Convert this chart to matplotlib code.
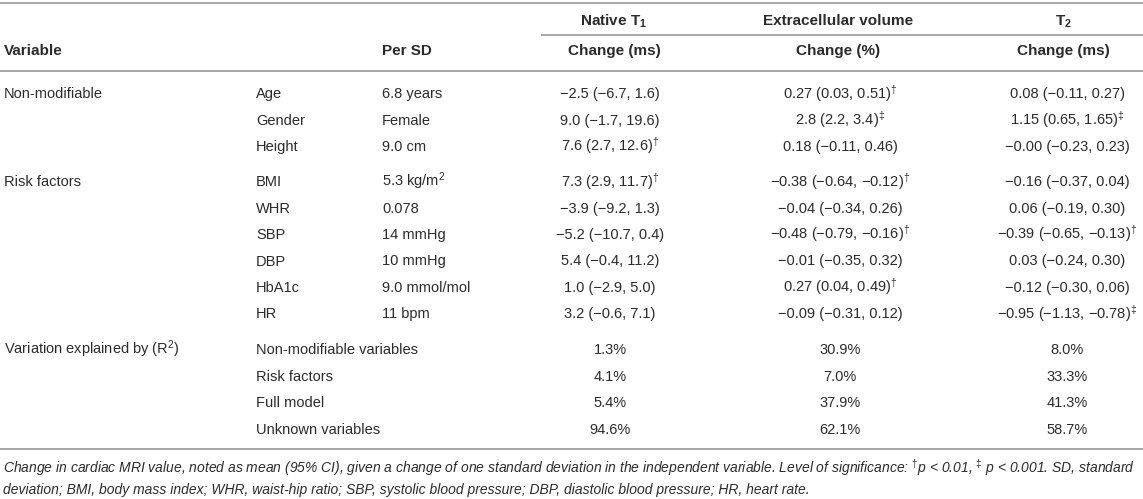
import matplotlib
matplotlib.use("Agg")
import matplotlib.pyplot as plt

plt.rcParams['font.family'] = ['Liberation Sans', 'DejaVu Sans']
plt.rcParams['mathtext.fontset'] = 'custom'
plt.rcParams['mathtext.rm'] = 'Liberation Sans'
plt.rcParams['mathtext.it'] = 'Liberation Sans:italic'
plt.rcParams['mathtext.bf'] = 'Liberation Sans:bold'

# ---------------- data ----------------
group_headers = ["Native T$_\\mathbf{1}$", "Extracellular volume", "T$_\\mathbf{2}$"]
col_headers = ["Variable", "Per SD", "Change (ms)", "Change (%)", "Change (ms)"]

sections = ["Non-modifiable", "Risk factors", "Variation explained by (R$^2$)"]

nonmod_vars = ["Age", "Gender", "Height"]
nonmod_persd = ["6.8 years", "Female", "9.0 cm"]
nonmod_t1 = ["\u22122.5 (\u22126.7, 1.6)", "9.0 (\u22121.7, 19.6)", "7.6 (2.7, 12.6)$^{\\dagger}$"]
nonmod_ecv = ["0.27 (0.03, 0.51)$^{\\dagger}$", "2.8 (2.2, 3.4)$^{\\ddagger}$", "0.18 (\u22120.11, 0.46)"]
nonmod_t2 = ["0.08 (\u22120.11, 0.27)", "1.15 (0.65, 1.65)$^{\\ddagger}$", "\u22120.00 (\u22120.23, 0.23)"]

risk_vars = ["BMI", "WHR", "SBP", "DBP", "HbA1c", "HR"]
risk_persd = ["5.3 kg/m$^2$", "0.078", "14 mmHg", "10 mmHg", "9.0 mmol/mol", "11 bpm"]
risk_t1 = ["7.3 (2.9, 11.7)$^{\\dagger}$", "\u22123.9 (\u22129.2, 1.3)", "\u22125.2 (\u221210.7, 0.4)",
           "5.4 (\u22120.4, 11.2)", "1.0 (\u22122.9, 5.0)", "3.2 (\u22120.6, 7.1)"]
risk_ecv = ["\u22120.38 (\u22120.64, \u22120.12)$^{\\dagger}$", "\u22120.04 (\u22120.34, 0.26)",
            "\u22120.48 (\u22120.79, \u22120.16)$^{\\dagger}$", "\u22120.01 (\u22120.35, 0.32)",
            "0.27 (0.04, 0.49)$^{\\dagger}$", "\u22120.09 (\u22120.31, 0.12)"]
risk_t2 = ["\u22120.16 (\u22120.37, 0.04)", "0.06 (\u22120.19, 0.30)",
           "\u22120.39 (\u22120.65, \u22120.13)$^{\\dagger}$", "0.03 (\u22120.24, 0.30)",
           "\u22120.12 (\u22120.30, 0.06)", "\u22120.95 (\u22121.13, \u22120.78)$^{\\ddagger}$"]

r2_vars = ["Non-modifiable variables", "Risk factors", "Full model", "Unknown variables"]
r2_t1 = ["1.3%", "4.1%", "5.4%", "94.6%"]
r2_ecv = ["30.9%", "7.0%", "37.9%", "62.1%"]
r2_t2 = ["8.0%", "33.3%", "41.3%", "58.7%"]

footnote1 = ("Change in cardiac MRI value, noted as mean (95% CI), given a change of one standard deviation "
             "in the independent variable. Level of significance: $^{\\dagger}$p < 0.01, $^{\\ddagger}$ p < 0.001. SD, standard")
footnote2 = ("deviation; BMI, body mass index; WHR, waist-hip ratio; SBP, systolic blood pressure; "
             "DBP, diastolic blood pressure; HR, heart rate.")

# ---------------- layout ----------------
W, H = 1143, 499
fig = plt.figure(figsize=(W / 100, H / 100), dpi=100)
ax = fig.add_axes([0, 0, 1, 1])
ax.set_xlim(0, W)
ax.set_ylim(H, 0)
ax.axis('off')

TXT = '#2b2b2b'
LINE = '#a6a6a6'
FS = 10.5
FSB = 11
x_var, x_sub, x_sd = 4, 256, 382
x_head = [614, 838, 1063]
x_vals = [610, 840, 1067]
cap = 5.3

def t(x, y, s, ha='left', **kw):
    ax.text(x, y + cap, s, ha=ha, va='baseline', fontsize=kw.pop('fontsize', FS), color=TXT, **kw)

# lines
ax.hlines(3, 0, W, color=LINE, lw=1.4)
ax.hlines(35, 541, W, color=LINE, lw=1.4)
ax.hlines(71, 0, W, color=LINE, lw=1.4)
ax.hlines(449, 0, W, color=LINE, lw=1.4)

# headers
for xc, g in zip(x_head, group_headers):
    t(xc, 20, g, ha='center', fontweight='bold', fontsize=FSB)
t(x_var, 50, col_headers[0], fontweight='bold', fontsize=FSB)
t(x_sd, 50, col_headers[1], fontweight='bold', fontsize=FSB)
for xc, h in zip(x_head, col_headers[2:]):
    t(xc, 50, h, ha='center', fontweight='bold', fontsize=FSB)

# body
blocks = [
    (sections[0], nonmod_vars, nonmod_persd, nonmod_t1, nonmod_ecv, nonmod_t2, 93),
    (sections[1], risk_vars, risk_persd, risk_t1, risk_ecv, risk_t2, 181),
    (sections[2], r2_vars, None, r2_t1, r2_ecv, r2_t2, 349),
]
ROW = 26.4
for sec, vars_, sds, c1, c2, c3, y0 in blocks:
    t(x_var, y0, sec)
    for i, v in enumerate(vars_):
        y = y0 + i * ROW
        t(x_sub, y, v)
        if sds is not None:
            t(x_sd, y, sds[i])
        for xc, col in zip(x_vals, (c1, c2, c3)):
            t(xc, y, col[i], ha='center')

# footnote
t(3, 467, footnote1, fontsize=10.0, style='italic')
t(3, 489, footnote2, fontsize=10.0, style='italic')

fig.savefig("out.png", dpi=100)
